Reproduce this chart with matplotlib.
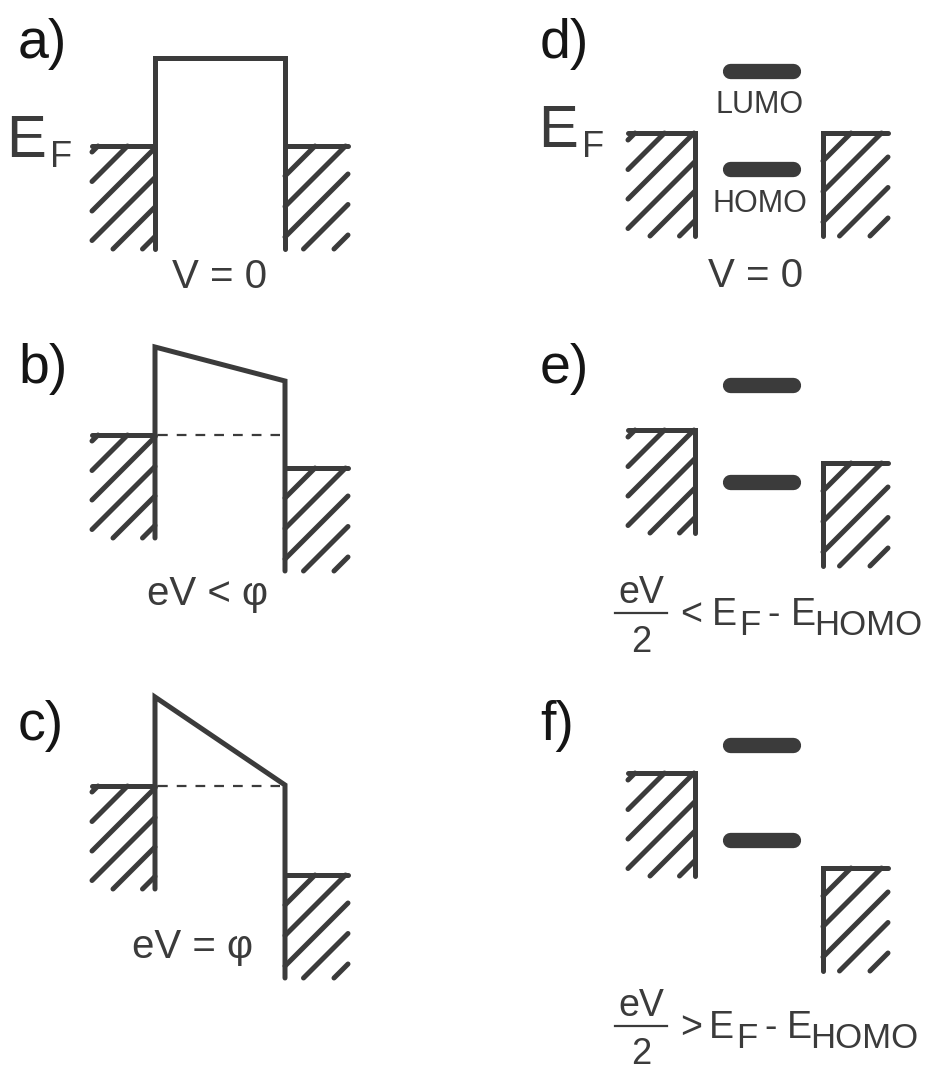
import matplotlib
matplotlib.use("Agg")
import matplotlib.pyplot as plt

plt.rcParams['font.family'] = ['Liberation Sans', 'DejaVu Sans']
plt.rcParams['lines.scale_dashes'] = False

# energies relative to the left Fermi level (positive = up)
panel_labels = ['a)', 'b)', 'c)', 'd)', 'e)', 'f)']

# tunnel barrier panels a-c
barrier_top_left = [88, 88, 89]
barrier_top_right = [88, 54, 1]
ef_right_tunnel = [0, -33, -89]
tunnel_captions = ['V = 0', 'eV < φ', 'eV = φ']

# molecular junction panels d-f
lumo = [62, 45, 28]
homo = [-36, -52, -67]
ef_right_mol = [0, -33, -95]
mol_signs = ['<', '>']

col = '#3b3b3b'
lw = 3.6
depth = 103

fig = plt.figure(figsize=(9.32, 10.70), dpi=100)
ax = fig.add_axes([0, 0, 1, 1])
ax.set_xlim(0, 932)
ax.set_ylim(1070, 0)
ax.axis('off')


def hatch(x0, x1, y0, y1, offset, spacing):
    # diagonal "/" lines clipped to the box
    c = x0 + y0 + offset
    while c < x1 + y1:
        xa = max(x0, c - y1)
        xb = min(x1, c - y0)
        if xb >= xa:
            ax.plot([xa, xb], [c - xa, c - xb], color=col, lw=lw,
                    solid_capstyle='round')
        c += spacing


# ---- left column: tunnel barrier ----
row_left = [146, 435, 786]
xl0, xb0, xb1, xr1 = 92, 155, 285, 348
for i in range(3):
    ef = row_left[i]
    top_l = ef - barrier_top_left[i]
    top_r = ef - barrier_top_right[i]
    ef_r = ef - ef_right_tunnel[i]
    bot_l = ef + depth
    bot_r = ef_r + depth
    hatch(xl0, xb0, ef, bot_l, 6, 29.5)
    hatch(xb1, xr1, ef_r, bot_r, 30, 30.5)
    ax.plot([xl0, xb0], [ef, ef], color=col, lw=lw, solid_capstyle='round')
    ax.plot([xb0, xb0, xb1, xb1], [bot_l, top_l, top_r, bot_r], color=col,
            lw=lw, solid_capstyle='round', solid_joinstyle='miter')
    ax.plot([xb1, xr1], [ef_r, ef_r], color=col, lw=lw, solid_capstyle='round')
    if i > 0:
        ax.plot([158, 280], [ef, ef], color=col, lw=1.6, dashes=(7, 6.5))

label_base_l = [58, 383, 740]
for i in range(3):
    ax.text(18, label_base_l[i], panel_labels[i], fontsize=40, color='#151515',
            va='baseline', ha='left')

ax.text(172, 288, tunnel_captions[0], fontsize=29, color=col, va='baseline')
ax.text(147, 605, tunnel_captions[1], fontsize=29, color=col, va='baseline')
ax.text(132, 958, tunnel_captions[2], fontsize=29, color=col, va='baseline')

ax.text(6, 157, 'E', fontsize=43, color=col, va='baseline')
ax.text(50, 167, 'F', fontsize=26, color=col, va='baseline')

# ---- right column: molecular levels ----
row_right = [133, 430, 773]
ml0, ml1, mr0, mr1 = 628, 695, 823, 888
for i in range(3):
    ef = row_right[i]
    ef_r = ef - ef_right_mol[i]
    hatch(ml0, ml1, ef, ef + depth, 7, 29.5)
    hatch(mr0, mr1, ef_r, ef_r + depth, 28, 30.5)
    ax.plot([ml0, ml1, ml1], [ef, ef, ef + depth], color=col, lw=lw,
            solid_capstyle='round', solid_joinstyle='miter')
    ax.plot([mr1, mr0, mr0], [ef_r, ef_r, ef_r + depth], color=col, lw=lw,
            solid_capstyle='round', solid_joinstyle='miter')
    for lev in (lumo[i], homo[i]):
        ax.plot([730, 793], [ef - lev, ef - lev], color=col, lw=11,
                solid_capstyle='round')

label_base_r = [58, 383, 740]
for i in range(3):
    ax.text(540, label_base_r[i], panel_labels[i + 3], fontsize=40,
            color='#151515', va='baseline', ha='left')

ax.text(538, 147, 'E', fontsize=43, color=col, va='baseline')
ax.text(582, 157, 'F', fontsize=26, color=col, va='baseline')
ax.text(760, 113, 'LUMO', fontsize=22, color=col, va='baseline', ha='center')
ax.text(760, 212, 'HOMO', fontsize=22, color=col, va='baseline', ha='center')
ax.text(708, 287, 'V = 0', fontsize=29, color=col, va='baseline')

# fraction captions for e) and f)
cap_base = [625, 1038]
for k, base in enumerate(cap_base):
    ax.text(641, base - 22, 'eV', fontsize=27, color=col, va='baseline',
            ha='center')
    ax.plot([615, 667], [base - 12, base - 12], color=col, lw=1.6)
    ax.text(641, base + 27 - k, '2', fontsize=26, color=col, va='baseline',
            ha='center')
    ax.text(680, base, mol_signs[k], fontsize=27, color=col, va='baseline')
    ax.text(712 - 3 * k, base, 'E', fontsize=27, color=col, va='baseline')
    ax.text(739 - 3 * k, base + 10, 'F', fontsize=25, color=col, va='baseline')
    ax.text(767 - 3 * k, base, '-', fontsize=27, color=col, va='baseline')
    ax.text(791 - 4 * k, base, 'E', fontsize=27, color=col, va='baseline')
    ax.text(814 - 4 * k, base + 10, 'HOMO', fontsize=25, color=col,
            va='baseline')

fig.savefig('out.png', dpi=100, facecolor='white')
